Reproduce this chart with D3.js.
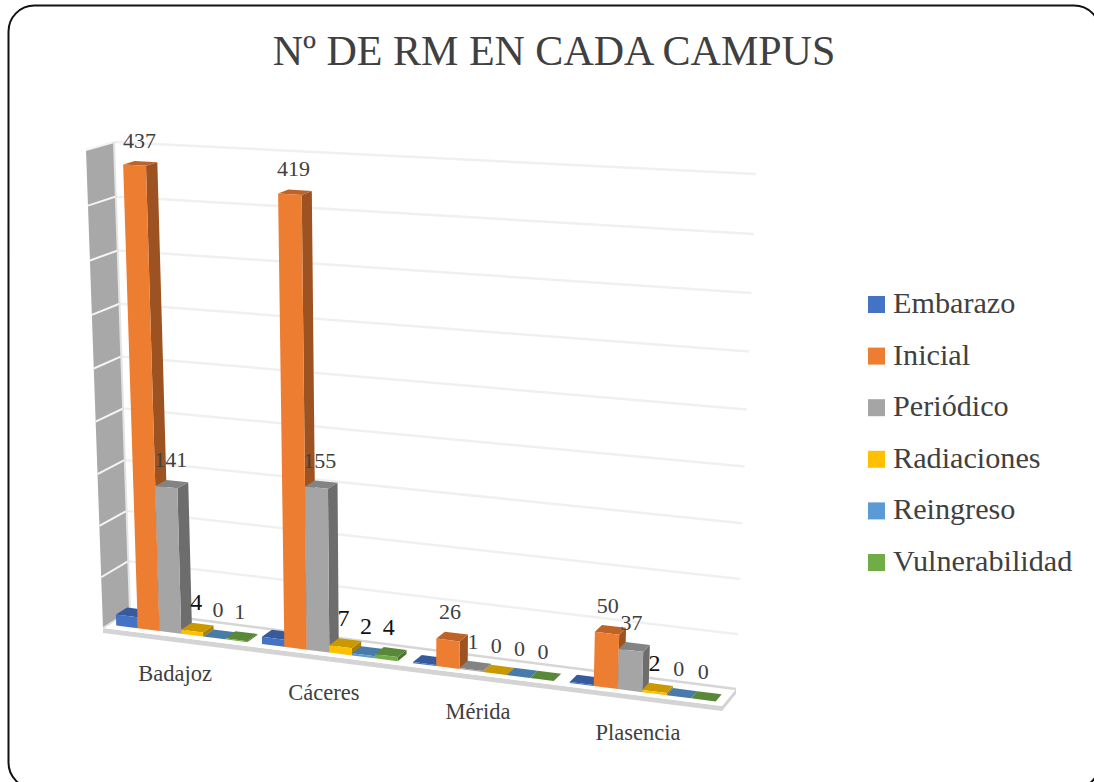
<!DOCTYPE html>
<html>
<head>
<meta charset="utf-8">
<script src="https://cdnjs.cloudflare.com/ajax/libs/d3/7.8.5/d3.min.js"></script>
<style>
  html, body { margin: 0; padding: 0; background: #fff; overflow: hidden; }
  text { font-family: "Liberation Serif", serif; }
</style>
</head>
<body>
<svg id="chart"></svg>
<script>
const categories = ['Badajoz', 'Cáceres', 'Mérida', 'Plasencia'];
const seriesNames = ['Embarazo', 'Inicial', 'Periódico', 'Radiaciones', 'Reingreso', 'Vulnerabilidad'];
const embarazo = [11, 7, 1, 1];
const inicial = [437, 419, 26, 50];
const periodico = [141, 155, 1, 37];
const radiaciones = [4, 7, 0, 2];
const reingreso = [0, 2, 0, 0];
const vulnerabilidad = [1, 4, 0, 0];
const seriesValues = [embarazo, inicial, periodico, radiaciones, reingreso, vulnerabilidad];
const seriesColors = ['#4472c4', '#ed7d31', '#a5a5a5', '#ffc000', '#5b9bd5', '#70ad47'];
const valueTicks = [0, 50, 100, 150, 200, 250, 300, 350, 400, 450];
// the Embarazo labels are hidden behind the orange bars in the original
const hiddenLabels = ['Embarazo'];
const darkLabels = ['Badajoz|Radiaciones', 'Cáceres|Radiaciones', 'Cáceres|Reingreso', 'Cáceres|Vulnerabilidad', 'Plasencia|Radiaciones'];

const width = 1094;
const height = 782;

const svg = d3.select('#chart').attr('width', width).attr('height', height);

// corners of the 3D box, [value level][left/right][front/back]
const corners = [
    [[[103, 628], [130, 611]], [[722, 706], [736, 689]]],
    [[[86, 150], [114, 142]], [[740, 185], [756, 174]]]
];
const weightU = [1, 0.93];
const weightH = [1, 0.95];

const proj = (u, h, d) => {
    let sx = 0, sy = 0, sw = 0;
    [0, 1].forEach(a => [0, 1].forEach(b => [0, 1].forEach(c => {
        const w = (a ? h : 1 - h) * (b ? u : 1 - u) * (c ? d : 1 - d) * weightH[a] * weightU[b];
        sx += w * corners[a][b][c][0];
        sy += w * corners[a][b][c][1];
        sw += w;
    })));
    return [sx / sw, sy / sw];
};

const xScale = d3.scaleBand().domain(categories).range([0, 1]).paddingInner(0.1).paddingOuter(0.055);
const xInner = d3.scaleBand().domain(seriesNames).range([0, xScale.bandwidth()]);
const yScale = d3.scaleLinear().domain([0, 450]).range([0, 1]);
const depthFront = 0.2;
const depthBack = 0.62;
const labelDepth = 0.6;

const line = d3.line();
const quad = pts => line(pts) + 'Z';

// frame
svg.append('rect')
    .attr('x', 8.5).attr('y', 5.5)
    .attr('width', 1091.5).attr('height', 783)
    .attr('rx', 26).attr('ry', 26)
    .attr('fill', '#fff').attr('stroke', '#111').attr('stroke-width', 2);

// title
svg.append('text')
    .attr('x', 554).attr('y', 65)
    .attr('text-anchor', 'middle')
    .attr('font-size', 42)
    .attr('fill', '#404040')
    .text('Nº DE RM EN CADA CAMPUS');

// side wall
svg.append('path')
    .attr('d', quad([proj(0, 0, 0), proj(0, 1, 0), proj(0, 1, 1), proj(0, 0, 1)]))
    .attr('fill', '#a8a8a8');

// floor with its lip
const lip = 5;
const fl = proj(0, 0, 0), fr = proj(1, 0, 0), br = proj(1, 0, 1);
svg.append('path')
    .attr('d', quad([fl, fr, br, [br[0], br[1] + lip], [fr[0], fr[1] + lip], [fl[0], fl[1] + lip]]))
    .attr('fill', '#d4d4d4');
svg.append('path')
    .attr('d', quad([proj(0, 0, 0), proj(1, 0, 0), proj(1, 0, 1), proj(0, 0, 1)]))
    .attr('fill', '#fff');

// gridlines on the back wall and on the side wall
const grid = svg.append('g');
valueTicks.forEach(t => {
    const h = yScale(t);
    grid.append('path')
        .attr('d', line([proj(0, h, 1), proj(1, h, 1)]))
        .attr('fill', 'none')
        .attr('stroke', t === 0 ? '#d6d6d6' : '#f0f0f0')
        .attr('stroke-width', 2.5);
    if (t > 0) {
        grid.append('path')
            .attr('d', line([proj(0, h, 0), proj(0, h, 1)]))
            .attr('fill', 'none')
            .attr('stroke', '#f4f4f4')
            .attr('stroke-width', 2);
    }
});
svg.append('path')
    .attr('d', line([proj(0, 1, 1), proj(0, 0, 1), proj(0, 0, 0)]))
    .attr('fill', 'none').attr('stroke', '#e4e4e4').attr('stroke-width', 2);

// bars, left to right so each one covers the side of the previous one
categories.forEach((cat, i) => {
    seriesNames.forEach((name, j) => {
        const u0 = xScale(cat) + xInner(name);
        const u1 = u0 + xInner.bandwidth();
        const h = yScale(seriesValues[j][i]);
        const color = d3.color(seriesColors[j]);
        const bar = svg.append('g');
        bar.append('path')
            .attr('d', quad([proj(u1, 0, depthFront), proj(u1, 0, depthBack), proj(u1, h, depthBack), proj(u1, h, depthFront)]))
            .attr('fill', color.darker(1.15));
        bar.append('path')
            .attr('d', quad([proj(u0, h, depthFront), proj(u1, h, depthFront), proj(u1, h, depthBack), proj(u0, h, depthBack)]))
            .attr('fill', color.darker(0.65));
        bar.append('path')
            .attr('d', quad([proj(u0, 0, depthFront), proj(u1, 0, depthFront), proj(u1, h, depthFront), proj(u0, h, depthFront)]))
            .attr('fill', color);
    });
});

// data labels
categories.forEach((cat, i) => {
    seriesNames.forEach((name, j) => {
        if (hiddenLabels.includes(name)) return;
        const v = seriesValues[j][i];
        const u = xScale(cat) + xInner(name) + xInner.bandwidth() / 2;
        const p = proj(u, yScale(v), labelDepth);
        const dark = darkLabels.includes(cat + '|' + name);
        svg.append('text')
            .attr('x', p[0] - 6)
            .attr('y', p[1] - 14)
            .attr('text-anchor', 'middle')
            .attr('font-size', dark ? 24 : 22)
            .attr('fill', dark ? '#111' : '#404040')
            .text(v);
    });
});

// category labels
categories.forEach(cat => {
    const p = proj(xScale(cat) + xScale.bandwidth() / 2, 0, 0);
    svg.append('text')
        .attr('x', p[0] - 1)
        .attr('y', p[1] + 44)
        .attr('text-anchor', 'middle')
        .attr('font-size', 22.5)
        .attr('fill', '#404040')
        .text(cat);
});

// legend
const legendY = d3.scalePoint().domain(seriesNames).range([296, 554]);
const legend = svg.selectAll('.legend')
    .data(seriesNames)
    .enter()
    .append('g')
    .attr('class', 'legend')
    .attr('transform', d => `translate(868, ${legendY(d)})`);
legend.append('rect')
    .attr('width', 17).attr('height', 17)
    .attr('fill', (d, i) => seriesColors[i]);
legend.append('text')
    .attr('x', 25).attr('y', 17)
    .attr('font-size', 30.2)
    .attr('fill', '#404040')
    .text(d => d);
</script>
</body>
</html>
